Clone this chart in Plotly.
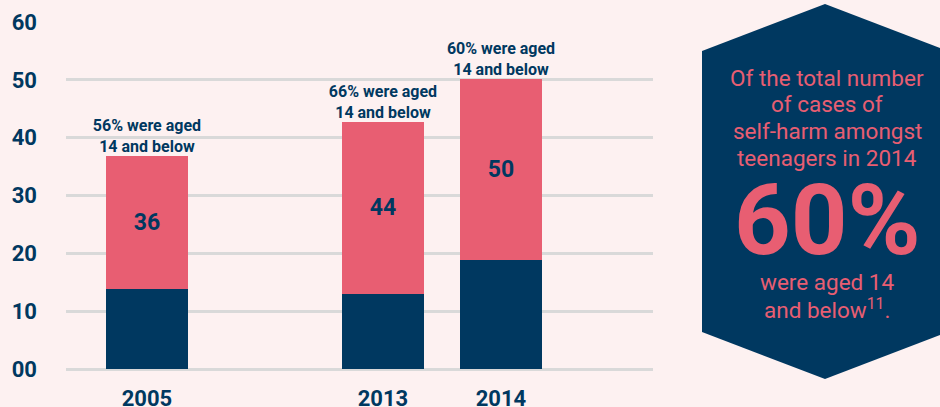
import plotly.graph_objects as go

# ---- data ----
years = ["2005", "2013", "2014"]
aged_over_14 = [13.8, 13.0, 18.9]          # dark segment
aged_14_below = [23.0, 29.7, 31.3]         # pink segment
total_labels = ["36", "44", "50"]
pct_labels = ["56% were aged<br>14 and below",
              "66% were aged<br>14 and below",
              "60% were aged<br>14 and below"]
y_ticks = [0, 10, 20, 30, 40, 50, 60]
y_tick_text = ["00", "10", "20", "30", "40", "50", "60"]
categories = ["2005", " ", "2013", "2014"]

NAVY = "#003860"
PINK = "#E85E72"
BG = "#FDF1F1"
GRID = "#D9D9D9"
FONT = "Roboto"

W, H = 940, 407
ML, MR, MT, MB = 66, 287, 22, 38
PW, PH = W - ML - MR, H - MT - MB


def px(x):
    return (x - ML) / PW


def py(y):
    return (H - MB - y) / PH


fig = go.Figure()
fig.add_trace(go.Bar(x=years, y=aged_over_14, marker_color=NAVY,
                     marker_line_width=0, hoverinfo="skip"))
fig.add_trace(go.Bar(x=years, y=aged_14_below, marker_color=PINK,
                     marker_line_width=0, text=total_labels,
                     textposition="inside", insidetextanchor="middle",
                     textfont=dict(family=FONT, size=23, color=NAVY, weight=700),
                     hoverinfo="skip"))

totals = [a + b for a, b in zip(aged_over_14, aged_14_below)]
fig.add_trace(go.Scatter(x=years, y=totals, mode="text", text=pct_labels,
                         textposition="top center", hoverinfo="skip",
                         textfont=dict(family=FONT, size=16, color=NAVY,
                                       weight=700)))

# hexagon callout
hx = [(825, 4), (948, 51), (948, 332), (825, 379), (702, 332), (702, 51)]
path = "M " + " L ".join(f"{px(a):.5f},{py(b):.5f}" for a, b in hx) + " Z"
fig.add_shape(type="path", path=path, xref="paper", yref="paper",
              fillcolor=NAVY, line_width=0, layer="above")

callout_lines = [("Of the total number", 78), ("of cases of", 104),
                 ("self-harm amongst", 131), ("teenagers in 2014", 158),
                 ("were aged 14", 282), ("and below<sup>11</sup>.", 308)]
for txt, yy in callout_lines:
    fig.add_annotation(x=px(827), y=py(yy), xref="paper", yref="paper",
                       text=txt, showarrow=False, xanchor="center",
                       yanchor="middle",
                       font=dict(family=FONT, size=22.5, color=PINK))
fig.add_annotation(x=px(827), y=py(220), xref="paper", yref="paper",
                   text="60%", showarrow=False, xanchor="center",
                   yanchor="middle",
                   font=dict(family=FONT, size=99, color=PINK, weight=700))

fig.update_layout(
    width=W, height=H,
    margin=dict(l=ML, r=MR, t=MT, b=MB, autoexpand=False),
    paper_bgcolor=BG, plot_bgcolor=BG,
    barmode="stack", bargap=0.305,
    showlegend=False,
    xaxis=dict(type="category", categoryorder="array", categoryarray=categories,
               range=[-0.686, 4.288], tickvals=years, ticktext=years,
               showgrid=False, zeroline=False, showline=False, ticks="",
               ticklabelstandoff=14, automargin=False,
               tickfont=dict(family=FONT, size=22, color=NAVY, weight=700)),
    yaxis=dict(range=[0, 60], tickvals=y_ticks, ticktext=y_tick_text,
               showgrid=True, gridcolor=GRID, gridwidth=3,
               zeroline=True, zerolinecolor=GRID, zerolinewidth=3,
               showline=False, ticks="", ticklabelstandoff=28, automargin=False,
               tickfont=dict(family=FONT, size=22, color=NAVY, weight=700)),
)

fig.write_html("out.html", config={"displayModeBar": False},
               post_script="document.body.style.margin='0';")
